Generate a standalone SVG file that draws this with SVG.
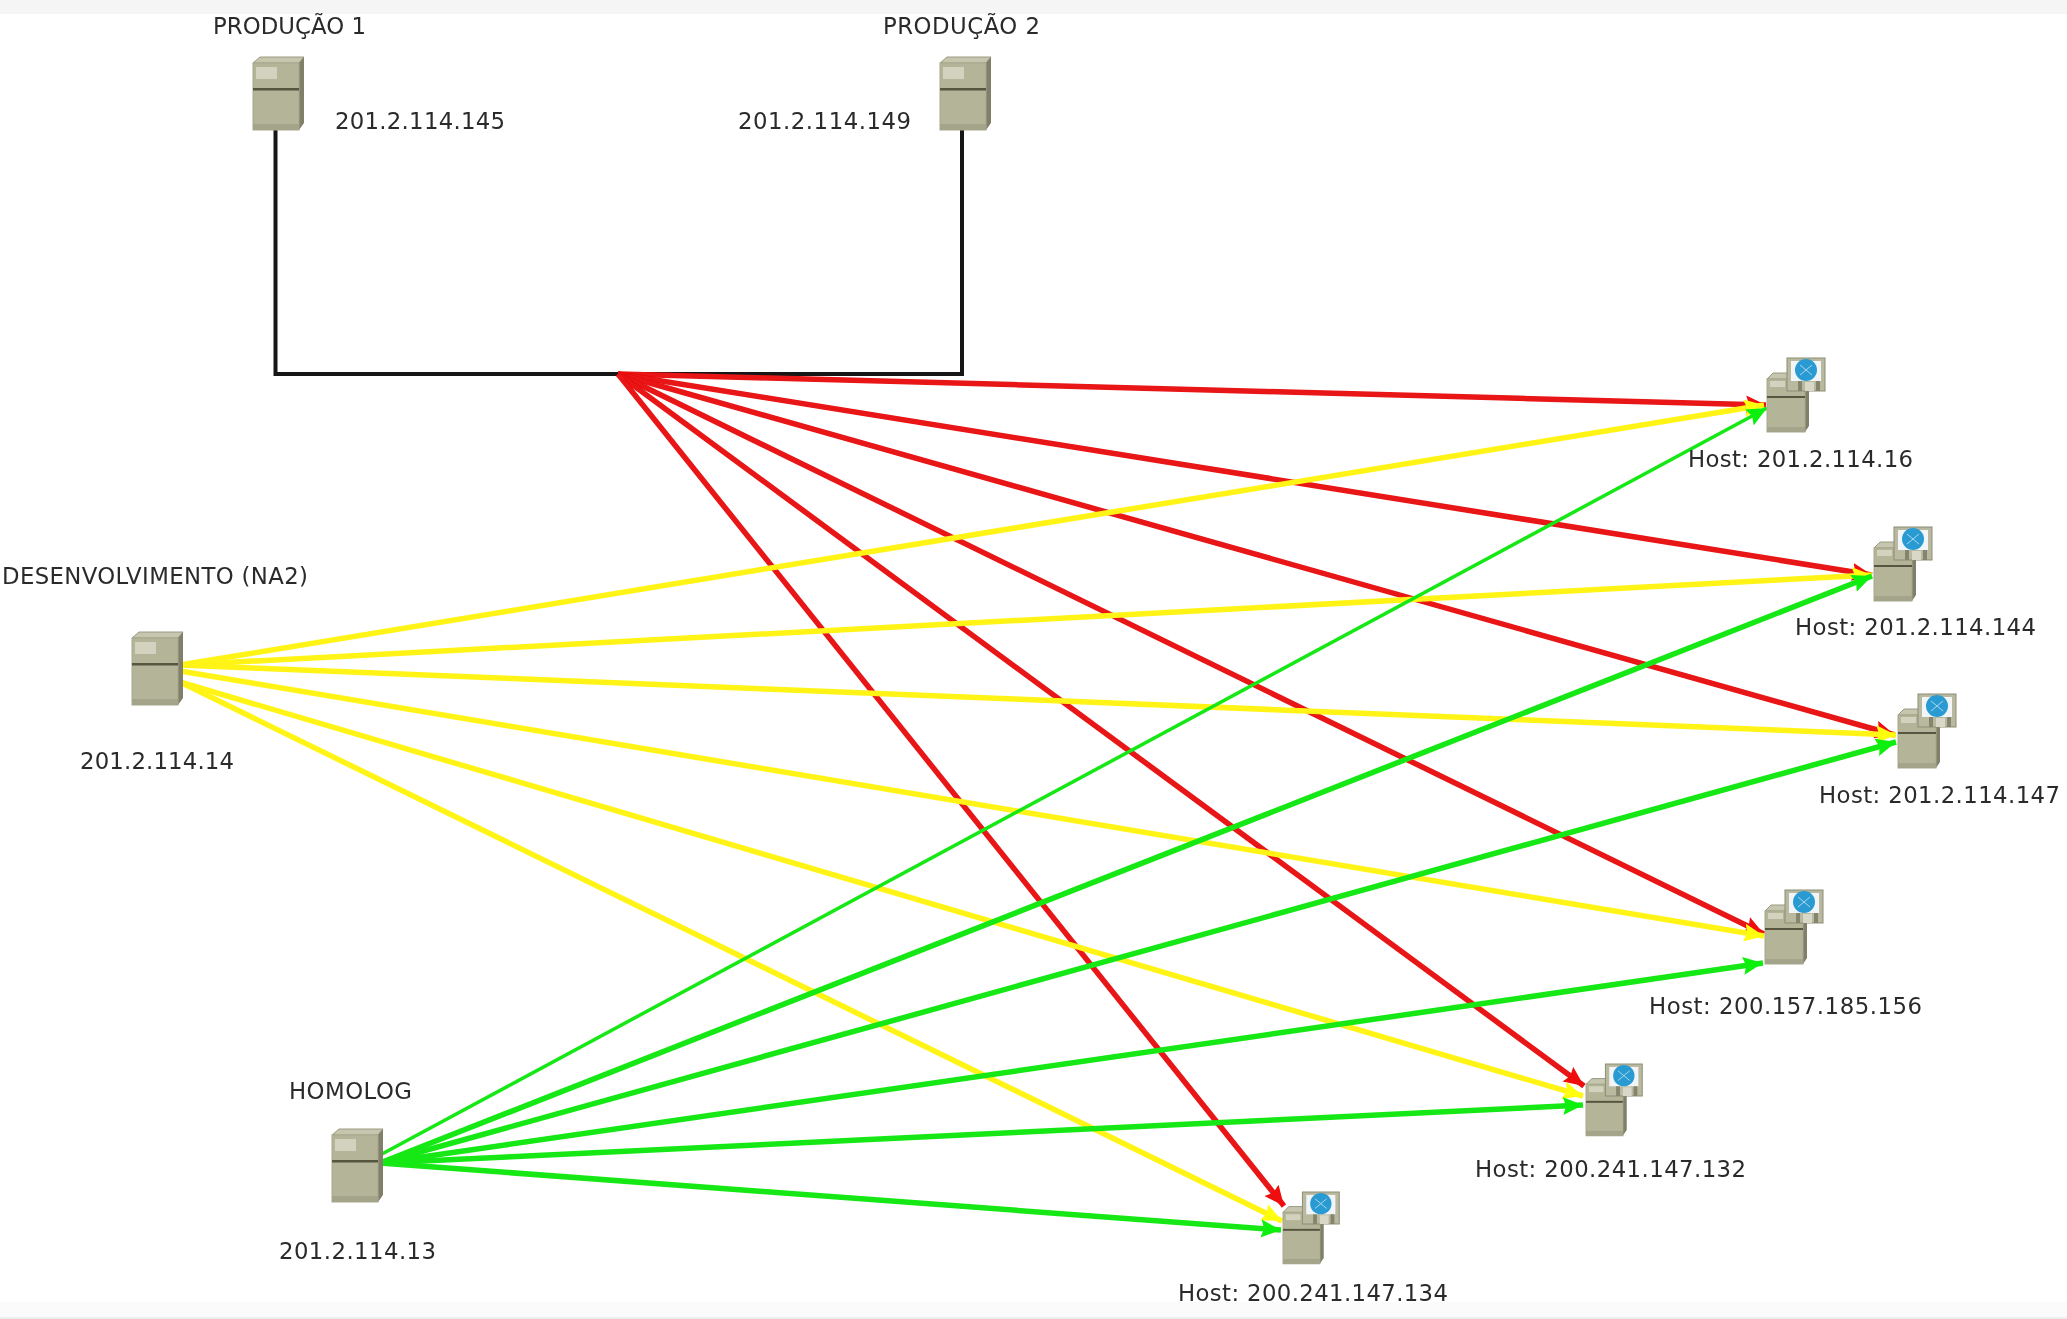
<svg xmlns="http://www.w3.org/2000/svg" width="2067" height="1319" viewBox="0 0 2067 1319">
<style>
text{font-family:"DejaVu Sans",sans-serif;font-size:22.8px;fill:#2b2b2b}
.r{stroke:#e81212;stroke-width:5.500;fill:none}
.y{stroke:#fff414;stroke-width:5.500;fill:none}
.g{stroke:#14e814;stroke-width:5.500;fill:none}
.t{stroke-width:3.500}
.k{stroke:#141414;stroke-width:4;fill:none}
</style>
<defs>
<filter id="soft" x="0" y="0" width="100%" height="100%"><feGaussianBlur stdDeviation="0.6"/></filter>
<marker id="ar" markerUnits="userSpaceOnUse" markerWidth="24" markerHeight="22" refX="20" refY="10" orient="auto"><path d="M0 1L20 10L0 19L3 10Z" fill="#f00a0a"/></marker>
<marker id="ay" markerUnits="userSpaceOnUse" markerWidth="24" markerHeight="22" refX="20" refY="10" orient="auto"><path d="M0 1L20 10L0 19L3 10Z" fill="#ffff10"/></marker>
<marker id="ag" markerUnits="userSpaceOnUse" markerWidth="24" markerHeight="22" refX="20" refY="10" orient="auto"><path d="M0 1L20 10L0 19L3 10Z" fill="#10f010"/></marker>
<g id="srv">
<path d="M0 6L7 0H51L46 6Z" fill="#c6c6ae" stroke="#9a9a82"/>
<path d="M46 6L51 0V66L46 73Z" fill="#80806a"/>
<rect x="0" y="6" width="46" height="67" fill="#b4b498" stroke="#a8a88e"/>
<rect x="3" y="10" width="21" height="12" fill="#d2d2bf"/>
<rect x="0" y="31" width="46" height="2.500" fill="#54543f"/>
<rect x="0" y="67" width="46" height="6" fill="#a4a48a"/>
</g>
<g id="hst">
<path d="M0 21L6 15H36L30 21Z" fill="#c6c6ae" stroke="#9a9a82"/>
<path d="M38 21L42 15V68L38 74Z" fill="#80806a"/>
<rect x="0" y="21" width="38" height="53" fill="#b4b498" stroke="#a8a88e"/>
<rect x="3" y="23" width="15" height="6" fill="#d2d2bf"/>
<rect x="0" y="38" width="38" height="2" fill="#54543f"/>
<rect x="0" y="69" width="38" height="5" fill="#a4a48a"/>
<rect x="20" y="0" width="38" height="33" fill="#b9b9a0" stroke="#8c8c74"/>
<rect x="24" y="3" width="30" height="20" fill="#f2f5f8"/>
<circle cx="39" cy="12" r="11" fill="#2b9bd2"/>
<path d="M33 7L45 17M45 7L33 17" stroke="#a9d6ee" stroke-width="1" fill="none"/>
<rect x="31" y="23" width="4" height="10" fill="#85856e"/>
<rect x="38" y="24" width="9" height="9" fill="#d8d8c8"/>
<rect x="49" y="23" width="4" height="10" fill="#85856e"/>
</g>
</defs>
<g filter="url(#soft)">
<rect width="2067" height="1319" fill="#ffffff"/>
<rect width="2067" height="14" fill="#f5f5f5"/>
<rect y="1302" width="2067" height="15" fill="#fbfbfb"/>
<rect y="1317" width="2067" height="2" fill="#eeeeee"/>
<g id="connectors">
<path class="k" d="M275.500 130V374H962V130"/>
<path class="r" marker-end="url(#ar)" d="M618 374L1766 405"/>
<path class="r" marker-end="url(#ar)" d="M618 374L1872 575"/>
<path class="r" marker-end="url(#ar)" d="M618 374L1895 735"/>
<path class="r" marker-end="url(#ar)" d="M618 374L1764 934"/>
<path class="r" marker-end="url(#ar)" d="M618 374L1584 1086"/>
<path class="r" marker-end="url(#ar)" d="M618 374L1284 1206"/>
<path class="y" marker-end="url(#ay)" d="M180 665L1764 405"/>
<path class="y" marker-end="url(#ay)" d="M180 665L1872 575"/>
<path class="y" marker-end="url(#ay)" d="M180 665L1896 735"/>
<path class="y" marker-end="url(#ay)" d="M180 671L1764 936"/>
<path class="y" marker-end="url(#ay)" d="M180 682L1583 1096"/>
<path class="y" marker-end="url(#ay)" d="M180 682L1282 1221"/>
<path class="g t" marker-end="url(#ag)" d="M382 1154L1767 408"/>
<path class="g" marker-end="url(#ag)" d="M380 1163L1872 576"/>
<path class="g" marker-end="url(#ag)" d="M380 1163L1896 742"/>
<path class="g" marker-end="url(#ag)" d="M380 1163L1763 963"/>
<path class="g" marker-end="url(#ag)" d="M380 1163L1583 1105"/>
<path class="g" marker-end="url(#ag)" d="M380 1163L1281 1230"/>
</g>
<g id="producao1"><use href="#srv" x="253" y="57"/><text x="213" y="34" textLength="153">PRODUÇÃO 1</text><text x="335" y="129" textLength="170">201.2.114.145</text></g>
<g id="producao2"><use href="#srv" x="940" y="57"/><text x="883" y="34" textLength="157">PRODUÇÃO 2</text><text x="738" y="129" textLength="173">201.2.114.149</text></g>
<g id="desenvolvimento"><use href="#srv" x="132" y="632"/><text x="2" y="584" textLength="306">DESENVOLVIMENTO (NA2)</text><text x="80" y="769" textLength="154">201.2.114.14</text></g>
<g id="homolog"><use href="#srv" x="332" y="1129"/><text x="289" y="1099" textLength="123">HOMOLOG</text><text x="279" y="1259" textLength="157">201.2.114.13</text></g>
<g id="host16"><use href="#hst" x="1767" y="358"/><text x="1688" y="467" textLength="225">Host: 201.2.114.16</text></g>
<g id="host144"><use href="#hst" x="1874" y="527"/><text x="1795" y="635" textLength="241">Host: 201.2.114.144</text></g>
<g id="host147"><use href="#hst" x="1898" y="694"/><text x="1819" y="803" textLength="241">Host: 201.2.114.147</text></g>
<g id="host156"><use href="#hst" x="1765" y="890"/><text x="1649" y="1014" textLength="273">Host: 200.157.185.156</text></g>
<g id="host132"><use href="#hst" transform="translate(1586 1064) scale(.97)"/><text x="1475" y="1177" textLength="271">Host: 200.241.147.132</text></g>
<g id="host134"><use href="#hst" transform="translate(1283 1192) scale(.97)"/><text x="1178" y="1301" textLength="270">Host: 200.241.147.134</text></g>
</g>
</svg>
